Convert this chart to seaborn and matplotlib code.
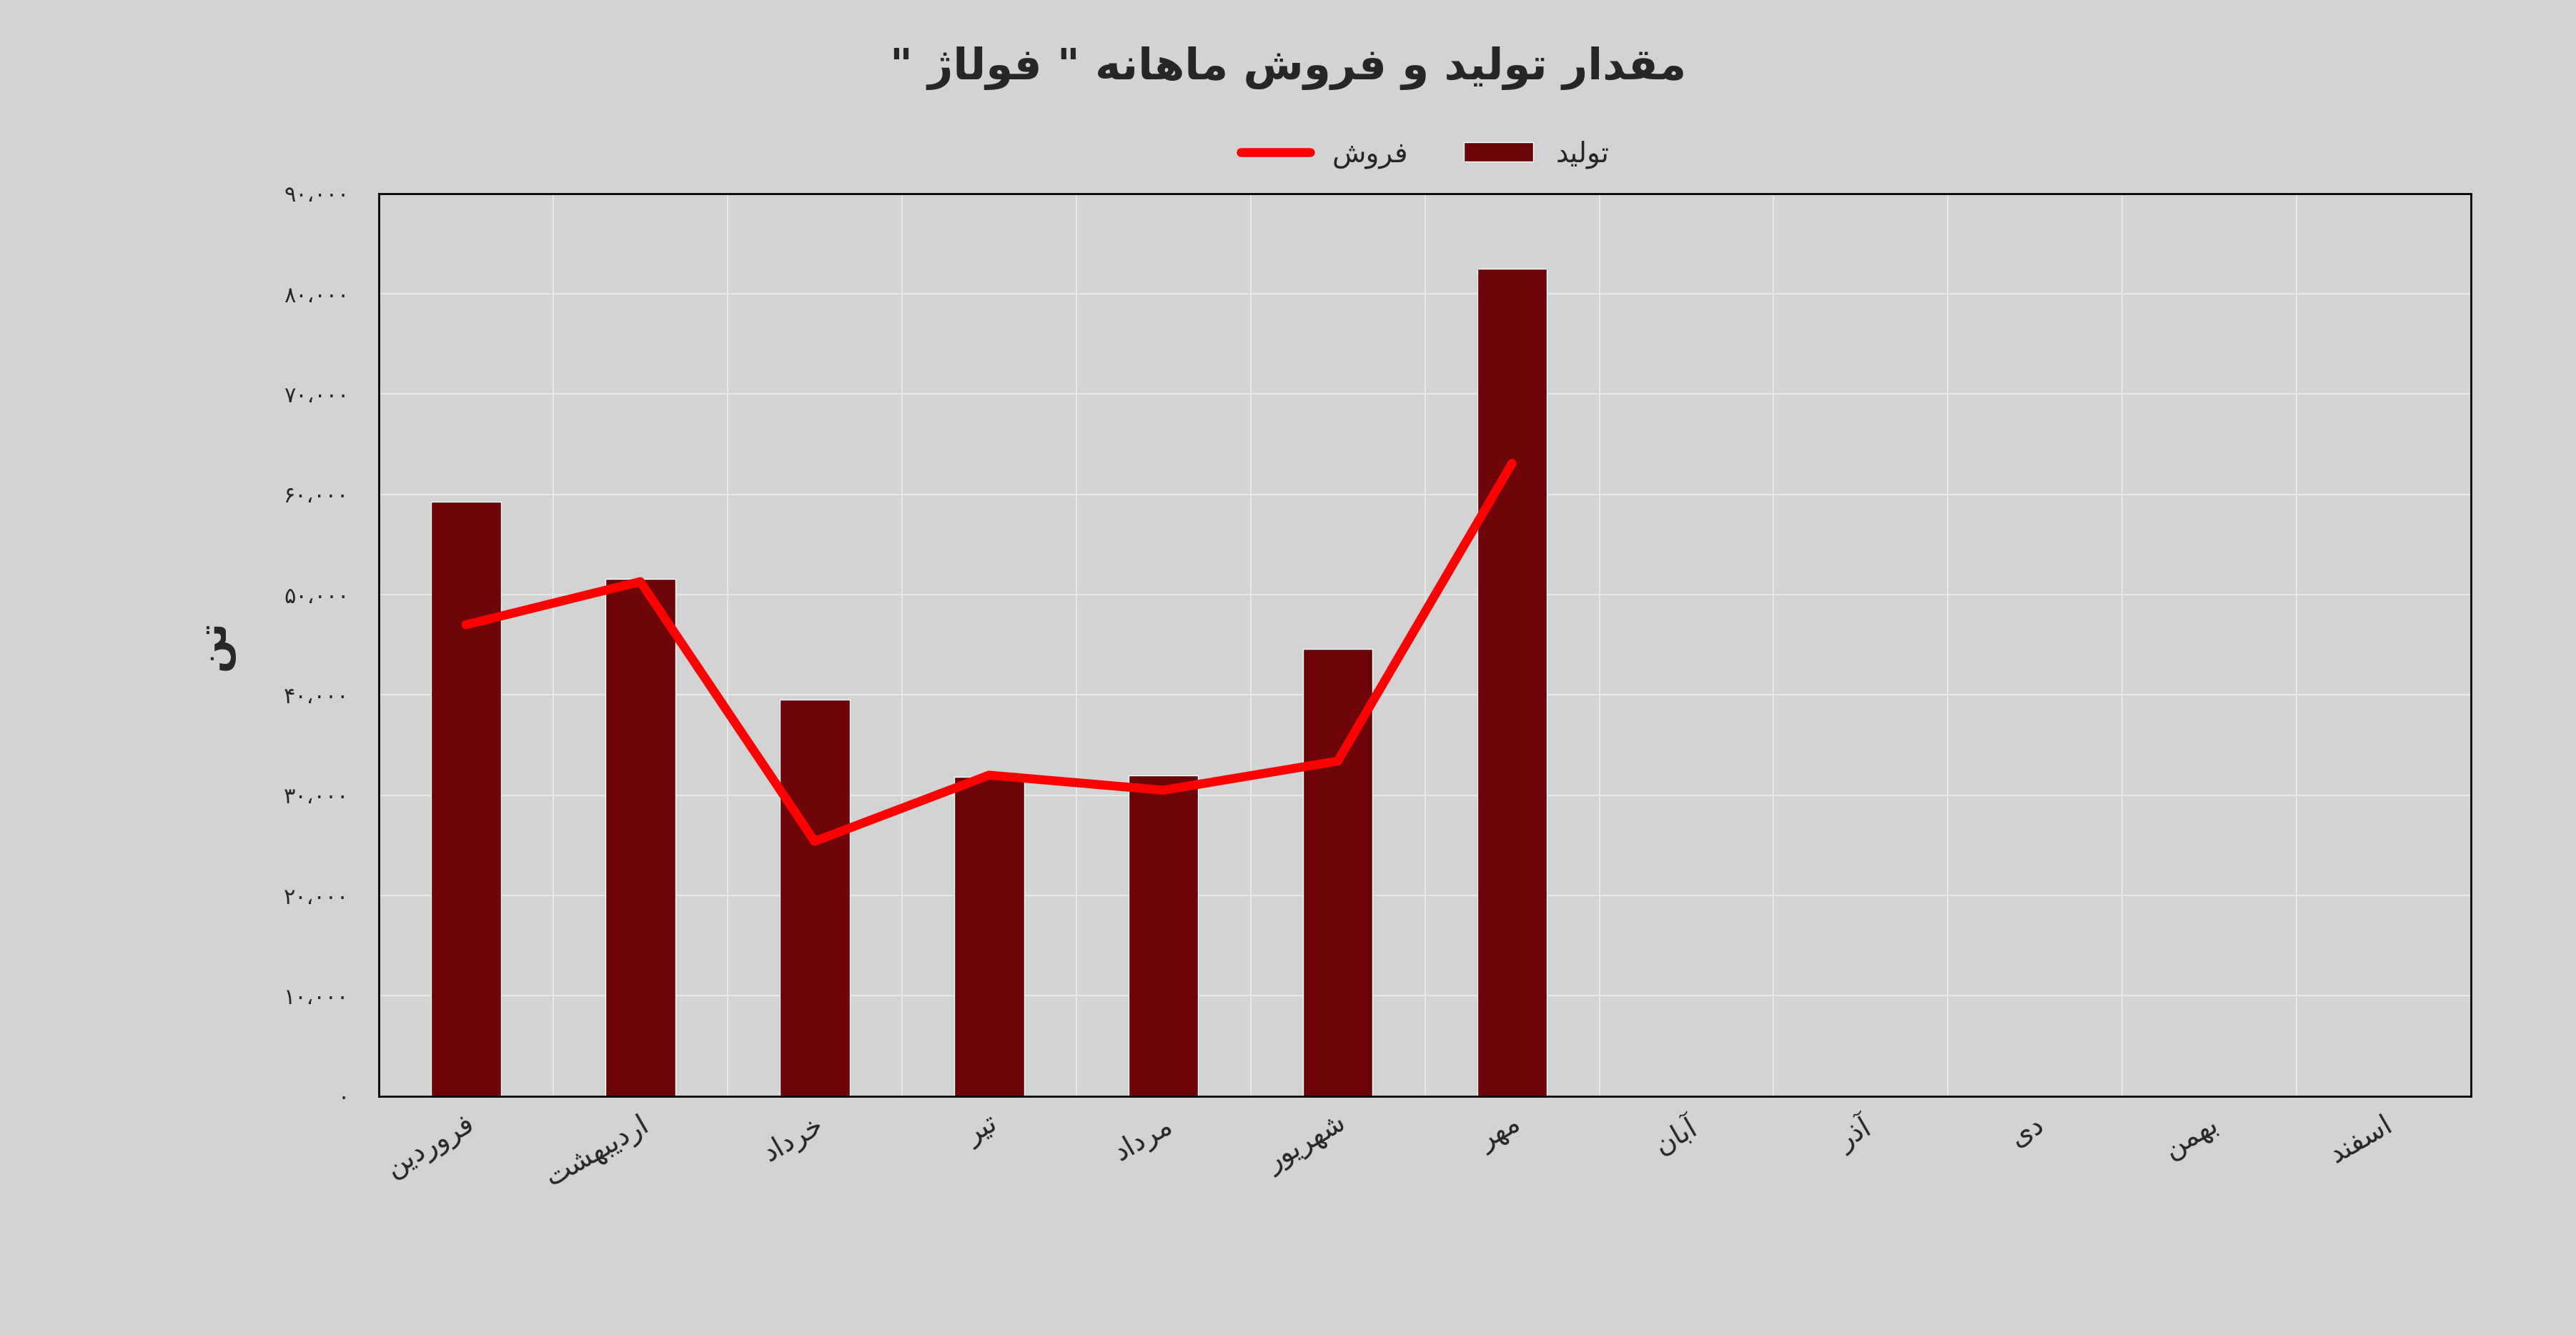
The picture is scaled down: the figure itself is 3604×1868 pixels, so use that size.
import unicodedata
import matplotlib
matplotlib.use("Agg")
import matplotlib.pyplot as plt
import seaborn as sns
import numpy as np
from matplotlib.ticker import FuncFormatter

RIGHT_ONLY = set("اآدذرزژو")

def _form(ch, form):
    try:
        return unicodedata.lookup(unicodedata.name(ch) + " " + form + " FORM")
    except Exception:
        return None

def is_ar(ch):
    return '\u0600' <= ch <= '\u06FF' and ch not in '،'

def shape(text):
    out = []
    n = len(text)
    for i, ch in enumerate(text):
        if not is_ar(ch):
            out.append(ch); continue
        prev = text[i-1] if i > 0 else ''
        nxt = text[i+1] if i < n-1 else ''
        jp = bool(prev) and is_ar(prev) and prev not in RIGHT_ONLY
        jn = bool(nxt) and is_ar(nxt) and ch not in RIGHT_ONLY
        if jp and jn:
            f = _form(ch, "MEDIAL") or _form(ch, "FINAL")
        elif jp:
            f = _form(ch, "FINAL")
        elif jn:
            f = _form(ch, "INITIAL")
        else:
            f = _form(ch, "ISOLATED")
        out.append(f or ch)
    return ''.join(out)[::-1]

def fa_num(v):
    s = f"{int(round(v)):,}".replace(",", "،")
    return s.translate(str.maketrans("0123456789", "۰۱۲۳۴۵۶۷۸۹"))

title = 'مقدار تولید و فروش ماهانه " فولاژ "'
months = ["فروردین", "اردیبهشت", "خرداد", "تیر", "مرداد", "شهریور", "مهر",
          "آبان", "آذر", "دی", "بهمن", "اسفند"]
production = [59300, 51600, 39500, 31800, 32000, 44600, 82500,
              np.nan, np.nan, np.nan, np.nan, np.nan]
sales = [47000, 51300, 25400, 32000, 30500, 33400, 63100]
prod_label = "تولید"
sales_label = "فروش"
ylabel = "تن"

bg = "#d3d3d3"
sns.set_style("whitegrid")
plt.rcParams['font.family'] = ['DejaVu Sans']

fig = plt.figure(figsize=(36.05, 18.68), dpi=100, facecolor=bg)
ax = fig.add_axes([0.147, 0.179, 0.812, 0.676])
ax.set_facecolor(bg)

m_sh = [shape(m) for m in months]
sns.barplot(x=m_sh, y=production, color="#6b0509", width=0.4, ax=ax,
            saturation=1, label=shape(prod_label), order=m_sh)
sns.lineplot(x=m_sh[:7], y=sales, color="#ff0000", linewidth=9, ax=ax,
             sort=False, label=shape(sales_label))

ax.set_ylim(0, 90000)
ax.set_xlim(-0.5, 11.5)
ax.set_yticks(np.arange(0, 90001, 10000))
ax.yaxis.set_major_formatter(FuncFormatter(lambda v, p: fa_num(v)))
ax.tick_params(axis='y', labelsize=22, length=0, pad=30)
ax.tick_params(axis='x', labelsize=28, length=0, pad=15)
for t in ax.get_xticklabels():
    t.set_rotation(30); t.set_ha('right'); t.set_rotation_mode('anchor')
ax.grid(True, color="#e8e8e8", linewidth=1.5)
ax.set_xticks(np.arange(-0.5, 12, 1), minor=True)
ax.grid(False, axis='x', which='major')
ax.grid(True, axis='x', which='minor', color="#e8e8e8", linewidth=1.5)
for s in ax.spines.values():
    s.set_color("black"); s.set_linewidth(2)
ax.set_xlabel("")
ax.set_ylabel(shape(ylabel), fontsize=40, fontweight='bold', labelpad=50)

fig.suptitle(shape(title), fontsize=44, fontweight='bold', y=0.965)
leg = ax.legend(loc='lower center', bbox_to_anchor=(0.5, 1.0), ncol=2,
                frameon=False, fontsize=28, handlelength=2.5)
fig.savefig("out.png", dpi=100, facecolor=bg)
